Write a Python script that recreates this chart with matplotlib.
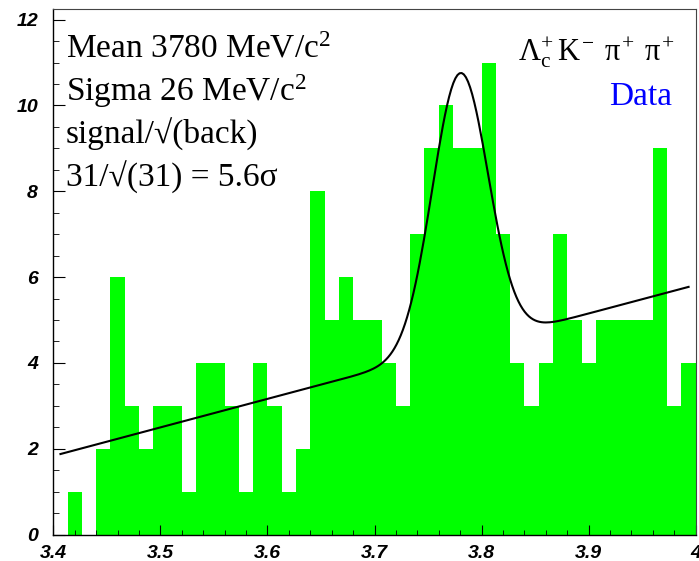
import numpy as np
import matplotlib
matplotlib.use("Agg")
import matplotlib.pyplot as plt

# histogram contents, 45 bins from 3.4 to 4.0 GeV/c^2
x_min, x_max = 3.4, 4.0
counts = [0, 1, 0, 2, 6, 3, 2, 3, 3, 1,
          4, 4, 3, 1, 4, 3, 1, 2, 8, 5,
          6, 5, 5, 4, 3, 7, 9, 10, 9, 9,
          11, 7, 4, 3, 4, 7, 5, 4, 5, 5,
          5, 5, 9, 3, 4]

fit_mean = 3.780
fit_sigma = 0.026
fit_amp = 6.4
bg_x0, bg_y0 = 3.4067, 1.876
bg_slope = 6.64

xticks = [3.4, 3.5, 3.6, 3.7, 3.8, 3.9, 4.0]
xtick_labels = ['3.4', '3.5', '3.6', '3.7', '3.8', '3.9', '4']
yticks = [0, 2, 4, 6, 8, 10, 12]

plt.rcParams['mathtext.fontset'] = 'custom'
plt.rcParams['mathtext.rm'] = 'Liberation Serif'
plt.rcParams['mathtext.it'] = 'Liberation Serif'
plt.rcParams['mathtext.bf'] = 'Liberation Serif:bold'

fig = plt.figure(figsize=(6.99, 5.61), dpi=100)
ax = fig.add_axes([0.0763, 0.0472, 0.9190, 0.9362])

edges = np.linspace(x_min, x_max, len(counts) + 1)
ax.stairs(counts, edges, fill=True, color='#00ff00', linewidth=0)

# fit curve between first and last bin centres
centers = 0.5 * (edges[:-1] + edges[1:])
xf = np.linspace(centers[0], centers[-1], 300)
yf = bg_y0 + bg_slope * (xf - bg_x0) + fit_amp * np.exp(-0.5 * ((xf - fit_mean) / fit_sigma) ** 2)
ax.plot(xf, yf, color='black', lw=1.5)

ax.set_xlim(x_min, x_max)
ax.set_ylim(0, 12.24)

ax.set_xticks(xticks)
ax.set_xticklabels(xtick_labels)
ax.set_xticks(np.arange(3.4, 4.0001, 0.02), minor=True)
ax.set_yticks(yticks)
ax.set_yticks(np.arange(0, 12.01, 0.5), minor=True)

ax.tick_params(direction='in', which='both', top=False, right=False)
ax.tick_params(axis='y', which='major', length=8.4, pad=11)
ax.tick_params(axis='y', which='minor', length=4.3)
ax.tick_params(axis='x', which='major', length=7.2, pad=7.5)
ax.tick_params(axis='x', which='minor', length=3.6)
for lab in ax.get_xticklabels() + ax.get_yticklabels():
    lab.set_fontfamily('Liberation Sans')
    lab.set_fontweight('bold')
    lab.set_fontstyle('italic')
    lab.set_fontsize(14)

for s in ['left', 'bottom']:
    ax.spines[s].set_linewidth(1.0)
for s in ['top', 'right']:
    ax.spines[s].set_linewidth(0.8)
    ax.spines[s].set_color('#444444')

serif = ['Liberation Serif', 'DejaVu Serif']
lines = [r'Mean 3780 MeV/c$^{2}$',
         r'Sigma 26 MeV/c$^{2}$',
         'signal/\u221a(back)',
         '31/\u221a(31) = 5.6\u03c3']
for i, t in enumerate(lines):
    fig.text(66 / 699, 1 - (57.8 + 43.1 * i) / 561, t, fontsize=24,
             family=serif, ha='left', va='baseline')

fig.text(674 / 699, 1 - 60 / 561,
         r'$\Lambda_{c}^{+}\,K^{-}\;\,\pi^{+}\;\,\pi^{+}$',
         fontsize=22, ha='right', va='baseline')
fig.text(672 / 699, 1 - 105 / 561, 'Data', fontsize=24, family=serif,
         color='#0000ff', ha='right', va='baseline')

fig.savefig('out.png', dpi=100)
